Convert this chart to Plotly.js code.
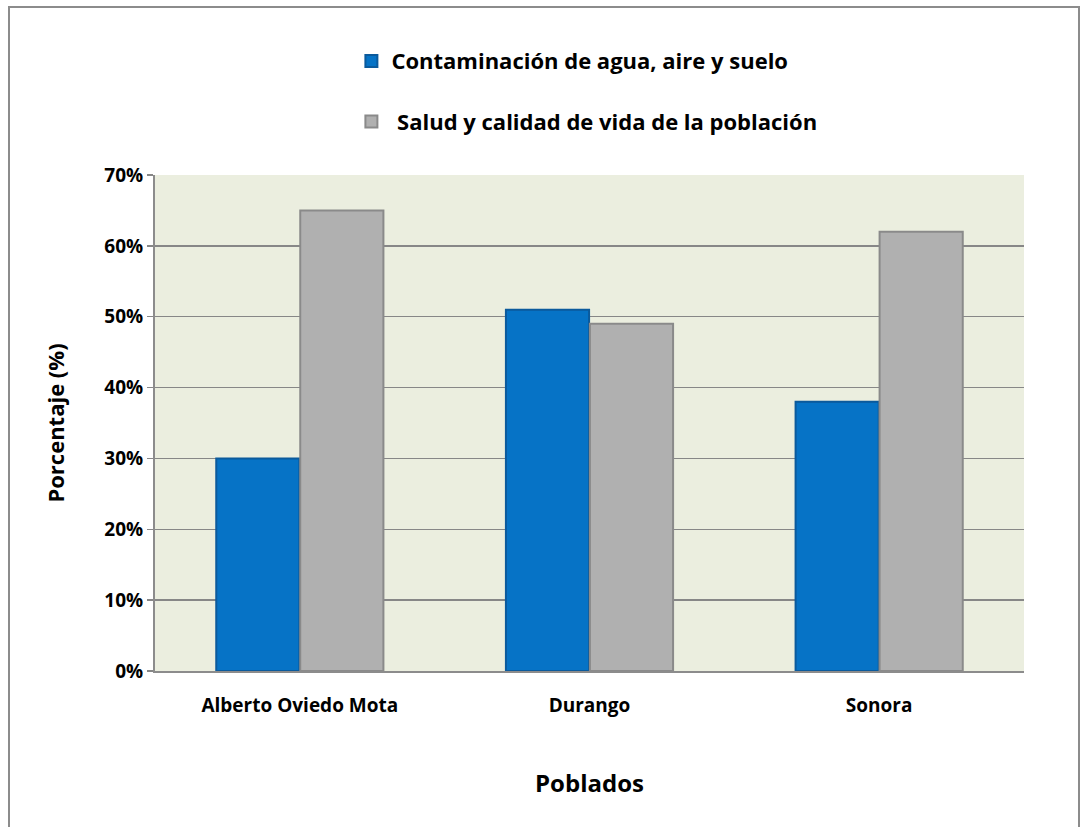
<!DOCTYPE html>
<html>
<head>
<meta charset="utf-8">
<script src="https://cdn.plot.ly/plotly-3.0.1.min.js"></script>
<style>
  html, body { margin: 0; padding: 0; background: #ffffff; }
  #chart { position: absolute; left: 0; top: 0; width: 1084px; height: 827px; }
  #frame { position: absolute; left: 8px; top: 6px; width: 1072px; height: 830px; border: 2px solid #8c8c8c; box-sizing: border-box; pointer-events: none; }
</style>
</head>
<body>
<div id="chart"></div>
<div id="frame"></div>
<script>
const categories = ["Alberto Oviedo Mota", "Durango", "Sonora"];
const contaminacion = [0.30, 0.51, 0.38];
const salud = [0.65, 0.49, 0.62];
const seriesNames = ["Contaminación de agua, aire y suelo", " Salud y calidad de vida de la población"];
const yTickVals = [0, 0.1, 0.2, 0.3, 0.4, 0.5, 0.6, 0.7];
const yTickText = ["0%", "10%", "20%", "30%", "40%", "50%", "60%", "70%"];

const font = "'Open Sans', Lato, sans-serif";

const traces = [
  {
    type: "bar", x: categories, y: contaminacion, name: seriesNames[0], legendgroup: "a",
    marker: { color: "#0673c6", line: { color: "#0b5a9c", width: 2 } },
    hoverinfo: "x+y"
  },
  {
    type: "bar", x: categories, y: salud, name: seriesNames[1], legendgroup: "b",
    marker: { color: "#b0b0b0", line: { color: "#8a8a8a", width: 2 } },
    hoverinfo: "x+y"
  }
];

const layout = {
  width: 1084, height: 827,
  margin: { l: 155, r: 60, t: 175, b: 156, autoexpand: false },
  paper_bgcolor: "rgba(0,0,0,0)",
  plot_bgcolor: "#ebeedf",
  font: { family: font, color: "#000000" },
  barmode: "group",
  bargap: 0.42,
  bargroupgap: 0.01,
  showlegend: true,
  legend: {
    orientation: "v", x: 0.497, xanchor: "center", y: 1.272, yanchor: "top",
    font: { family: font, size: 22, color: "#000000", weight: "bold" },
    tracegroupgap: 29, bgcolor: "rgba(0,0,0,0)"
  },
  xaxis: {
    type: "category",
    showline: true, linecolor: "#8c8c8c", linewidth: 2,
    showgrid: false, ticks: "", tickangle: 0,
    ticklabelstandoff: 16,
    tickfont: { family: font, size: 19, color: "#000000", weight: "bold" },
    title: { text: "Poblados", font: { family: font, size: 24, color: "#000000", weight: "bold" }, standoff: 58 },
    automargin: false
  },
  yaxis: {
    range: [0, 0.7], tickvals: yTickVals, ticktext: yTickText,
    showline: true, linecolor: "#8c8c8c", linewidth: 2,
    showgrid: true, gridcolor: "#878787", gridwidth: 1.5,
    zeroline: false,
    ticks: "outside", ticklen: 6, tickcolor: "#878787", tickwidth: 1.5,
    tickfont: { family: font, size: 19, color: "#000000", weight: "bold" },
    title: { text: "Porcentaje (%)", font: { family: font, size: 22, color: "#000000", weight: "bold" }, standoff: 34 },
    automargin: false
  }
};

Plotly.newPlot("chart", traces, layout, { displayModeBar: false, staticPlot: true });
</script>
</body>
</html>
